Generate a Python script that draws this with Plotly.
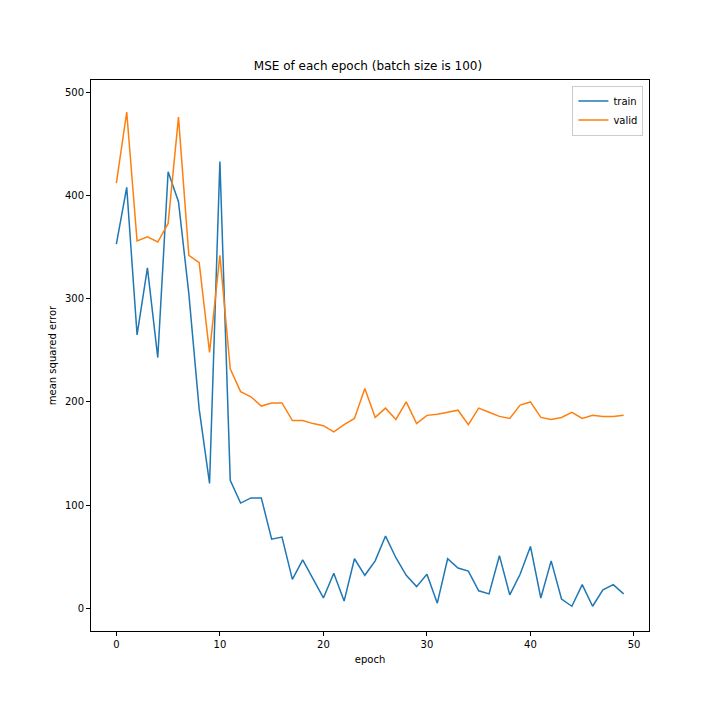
import plotly.graph_objects as go

epochs = list(range(50))
train = [353,408,265,330,243,423,394,305,193,121,433,124,102,107,107,67,69,28,47,29,
         10,34,7,48,32,46,70,49,32,21,33,5,48,39,36,17,14,51,13,33,
         60,10,46,9,2,23,2,18,23,14]
valid = [412,481,356,360,355,373,476,342,335,248,342,232,210,205,196,199,199,182,182,179,
         177,171,178,184,213,185,194,183,200,179,187,188,190,192,178,194,190,186,184,197,
         200,185,183,185,190,184,187,186,186,187]

fig = go.Figure()
fig.add_trace(go.Scatter(x=epochs, y=train, mode="lines", name="train", line=dict(color="#1f77b4", width=1.5)))
fig.add_trace(go.Scatter(x=epochs, y=valid, mode="lines", name="valid", line=dict(color="#ff7f0e", width=1.5)))
ax = dict(showgrid=False, zeroline=False, showline=True, mirror=True, linecolor="black", linewidth=1,
          ticks="outside", ticklen=4, tickcolor="black")
fig.update_layout(
    width=720, height=720, paper_bgcolor="white", plot_bgcolor="white",
    margin=dict(l=83, r=79, t=72, b=97),
    font=dict(family="DejaVu Sans", size=10, color="black"),
    title=dict(text="MSE of each epoch (batch size is 100)", x=0.5, xanchor="center", y=1-62/720, yanchor="bottom", font=dict(size=12)),
    xaxis=dict(ax, range=[-2.45, 51.45], tickvals=[0,10,20,30,40,50], title=dict(text="epoch", standoff=6, font=dict(size=10))),
    yaxis=dict(ax, range=[-22, 512], tickvals=[0,100,200,300,400,500], title=dict(text="mean squared error", standoff=6, font=dict(size=10))),
    legend=dict(x=0.99, y=0.99, xanchor="right", yanchor="top", bordercolor="#cccccc", borderwidth=1, bgcolor="white"),
)
fig.write_html("out.html")
